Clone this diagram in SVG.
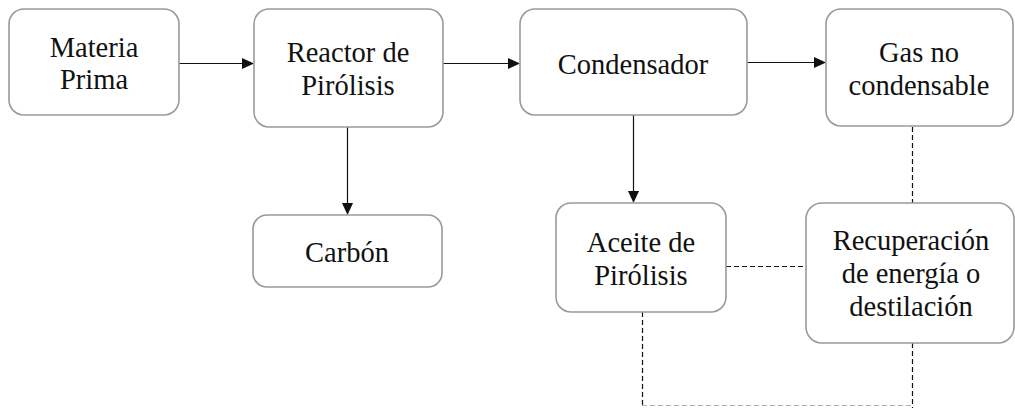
<svg xmlns="http://www.w3.org/2000/svg" width="1015" height="408" viewBox="0 0 1015 408">
  <rect width="1015" height="408" fill="#ffffff"/>

  <!-- flow connectors: solid arrows and dashed links -->
  <g id="connectors" fill="none">
    <g stroke="#111111" stroke-width="1.2">
      <line x1="179" y1="63.5" x2="243" y2="63.5"/>
      <line x1="443" y1="63.5" x2="509" y2="63.5"/>
      <line x1="747" y1="62.5" x2="815" y2="62.5"/>
      <line x1="347.5" y1="127" x2="347.5" y2="204"/>
      <line x1="633.5" y1="115" x2="633.5" y2="192"/>
    </g>
    <g fill="#111111">
      <polygon points="242,58 254,63.5 242,69"/>
      <polygon points="508,58 520,63.5 508,69"/>
      <polygon points="814,57 826,62.5 814,68"/>
      <polygon points="342,203 347.5,215 353,203"/>
      <polygon points="628,191 633.5,203 639,191"/>
    </g>
    <g stroke="#111111" stroke-width="1.2" stroke-dasharray="5 3">
      <line x1="912.5" y1="127" x2="912.5" y2="203"/>
      <line x1="726" y1="266.5" x2="806" y2="266.5"/>
      <line x1="912.5" y1="343" x2="912.5" y2="408"/>
      <line x1="642.5" y1="312" x2="642.5" y2="408"/>
      <line x1="642" y1="405.5" x2="912" y2="405.5" stroke="#b0b0b0"/>
    </g>
  </g>

  <g id="materia-prima">
    <rect x="9" y="9" width="170" height="106" rx="15" fill="#ffffff" stroke="#9a9a9a" stroke-width="1.6"/>
    <text x="94" y="57" font-size="28.5" font-family="'Liberation Serif', serif" text-anchor="middle" fill="#111111">Materia</text>
    <text x="94" y="89" font-size="28.5" font-family="'Liberation Serif', serif" text-anchor="middle" fill="#111111">Prima</text>
  </g>

  <g id="reactor">
    <rect x="254" y="9" width="189" height="118" rx="15" fill="#ffffff" stroke="#9a9a9a" stroke-width="1.6"/>
    <text x="348" y="62" font-size="28.5" font-family="'Liberation Serif', serif" text-anchor="middle" fill="#111111">Reactor de</text>
    <text x="348" y="95" font-size="28.5" font-family="'Liberation Serif', serif" text-anchor="middle" fill="#111111">Pirólisis</text>
  </g>

  <g id="condensador">
    <rect x="520" y="9" width="227" height="106" rx="15" fill="#ffffff" stroke="#9a9a9a" stroke-width="1.6"/>
    <text x="633" y="74" font-size="28.5" font-family="'Liberation Serif', serif" text-anchor="middle" fill="#111111">Condensador</text>
  </g>

  <g id="gas">
    <rect x="826" y="9" width="187" height="117" rx="15" fill="#ffffff" stroke="#9a9a9a" stroke-width="1.6"/>
    <text x="919" y="62" font-size="28.5" font-family="'Liberation Serif', serif" text-anchor="middle" fill="#111111">Gas no</text>
    <text x="919" y="95" font-size="28.5" font-family="'Liberation Serif', serif" text-anchor="middle" fill="#111111">condensable</text>
  </g>

  <g id="carbon">
    <rect x="253" y="215" width="189" height="72" rx="14" fill="#ffffff" stroke="#9a9a9a" stroke-width="1.6"/>
    <text x="347" y="262" font-size="28.5" font-family="'Liberation Serif', serif" text-anchor="middle" fill="#111111">Carbón</text>
  </g>

  <g id="aceite">
    <rect x="556" y="203" width="170" height="109" rx="15" fill="#ffffff" stroke="#9a9a9a" stroke-width="1.6"/>
    <text x="641" y="252" font-size="28.5" font-family="'Liberation Serif', serif" text-anchor="middle" fill="#111111">Aceite de</text>
    <text x="641" y="285" font-size="28.5" font-family="'Liberation Serif', serif" text-anchor="middle" fill="#111111">Pirólisis</text>
  </g>

  <g id="recuperacion">
    <rect x="806" y="203" width="208" height="140" rx="16" fill="#ffffff" stroke="#9a9a9a" stroke-width="1.6"/>
    <text x="911" y="250" font-size="28.5" font-family="'Liberation Serif', serif" text-anchor="middle" fill="#111111">Recuperación</text>
    <text x="911" y="283" font-size="28.5" font-family="'Liberation Serif', serif" text-anchor="middle" fill="#111111">de energía o</text>
    <text x="911" y="316" font-size="28.5" font-family="'Liberation Serif', serif" text-anchor="middle" fill="#111111">destilación</text>
  </g>
</svg>
